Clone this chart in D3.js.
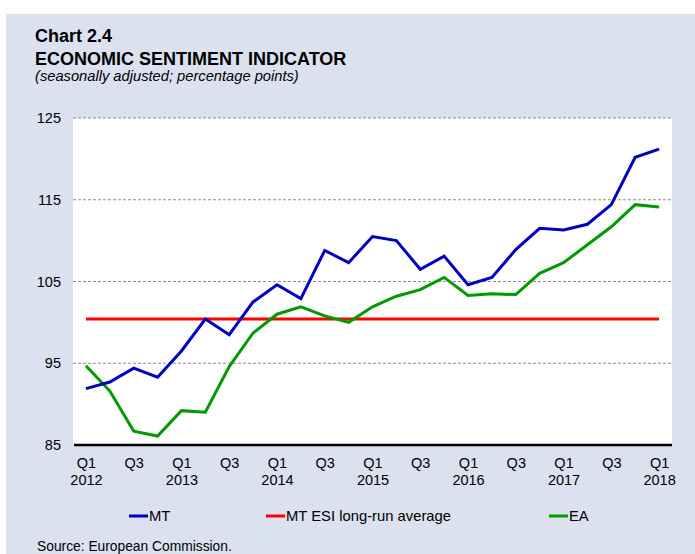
<!DOCTYPE html>
<html>
<head>
<meta charset="utf-8">
<script src="https://cdn.jsdelivr.net/npm/d3@7"></script>
<style>
  body { margin: 0; background: #fff; }
  text { font-family: "Liberation Sans", Arial, sans-serif; fill: #000; }
</style>
</head>
<body>
<div id="vis"></div>
<script>
const QUARTERS = [
  "2012Q1", "2012Q2", "2012Q3", "2012Q4",
  "2013Q1", "2013Q2", "2013Q3", "2013Q4",
  "2014Q1", "2014Q2", "2014Q3", "2014Q4",
  "2015Q1", "2015Q2", "2015Q3", "2015Q4",
  "2016Q1", "2016Q2", "2016Q3", "2016Q4",
  "2017Q1", "2017Q2", "2017Q3", "2017Q4",
  "2018Q1"
];
const MT = [91.9, 92.7, 94.4, 93.3, 96.5, 100.4, 98.5, 102.5, 104.6, 102.9, 108.8, 107.3,
            110.5, 110.0, 106.5, 108.1, 104.6, 105.5, 108.9, 111.5, 111.3, 112.0, 114.4, 120.2, 121.2];
const EA = [94.7, 91.6, 86.7, 86.1, 89.2, 89.0, 94.6, 98.7, 101.0, 101.9, 100.8, 100.0,
            101.9, 103.2, 104.0, 105.5, 103.3, 103.5, 103.4, 106.0, 107.3, 109.5, 111.7, 114.4, 114.1];
const MT_AVG = 100.4;
const Y_TICKS = [85, 95, 105, 115, 125];

const WIDTH = 695;
const HEIGHT = 554;
const SVG = d3.select("#vis").append("svg").attr("width", WIDTH).attr("height", HEIGHT);

// fondo
SVG.append("rect").attr("x", 6).attr("y", 14).attr("width", WIDTH - 6).attr("height", HEIGHT - 14)
  .attr("fill", "#dbe1ee");

// titulos
SVG.append("text").attr("x", 35).attr("y", 42).attr("font-size", 18).attr("font-weight", "bold")
  .text("Chart 2.4");
SVG.append("text").attr("x", 35).attr("y", 65).attr("font-size", 18).attr("font-weight", "bold")
  .text("ECONOMIC SENTIMENT INDICATOR");
SVG.append("text").attr("x", 35).attr("y", 81).attr("font-size", 14.7).attr("font-style", "italic")
  .text("(seasonally adjusted; percentage points)");

const PLOT = { left: 73, right: 672, top: 118, bottom: 445 };

SVG.append("rect").attr("x", PLOT.left).attr("y", PLOT.top)
  .attr("width", PLOT.right - PLOT.left).attr("height", PLOT.bottom - PLOT.top)
  .attr("fill", "#fff");

const x = d3.scalePoint().domain(QUARTERS).range([PLOT.left + 1, PLOT.right - 1]).padding(0.5);
const y = d3.scaleLinear().domain([85, 125]).range([PLOT.bottom, PLOT.top]);

// grid
SVG.append("g").selectAll("line").data(Y_TICKS.filter(d => d > 85)).join("line")
  .attr("x1", PLOT.left).attr("x2", PLOT.right)
  .attr("y1", d => y(d)).attr("y2", d => y(d))
  .attr("stroke", "#8c8c8c").attr("stroke-width", 1).attr("stroke-dasharray", "3,2");

// eje y
const yAxis = SVG.append("g").attr("transform", `translate(${PLOT.left},0)`)
  .call(d3.axisLeft(y).tickValues(Y_TICKS).tickSize(0).tickPadding(12));
yAxis.select(".domain").remove();
yAxis.selectAll("text").attr("font-size", 14.5).attr("font-family", "Liberation Sans, Arial, sans-serif")
  .attr("fill", "#000");

// eje x
const xAxis = SVG.append("g").attr("transform", `translate(0,${PLOT.bottom})`)
  .call(d3.axisBottom(x).tickValues(QUARTERS.filter((d, i) => i % 2 === 0)).tickSize(0).tickFormat(""));
xAxis.select(".domain").remove();
xAxis.selectAll(".tick").each(function(d) {
  const t = d3.select(this).append("text").attr("text-anchor", "middle")
    .attr("font-size", 14.5).attr("fill", "#000");
  t.append("tspan").attr("x", 0).attr("y", 23).text(d.slice(4));
  if (d.endsWith("Q1")) t.append("tspan").attr("x", 0).attr("y", 40).text(d.slice(0, 4));
});

SVG.append("line").attr("x1", PLOT.left + 1).attr("x2", PLOT.right)
  .attr("y1", PLOT.bottom).attr("y2", PLOT.bottom)
  .attr("stroke", "#000").attr("stroke-width", 2.5);

// lineas
const line = d3.line().x((d, i) => x(QUARTERS[i])).y(d => y(d));

SVG.append("path").datum(QUARTERS.map(() => MT_AVG)).attr("d", line)
  .attr("fill", "none").attr("stroke", "#ff0000").attr("stroke-width", 3);
SVG.append("path").datum(EA).attr("d", line)
  .attr("fill", "none").attr("stroke", "#009900").attr("stroke-width", 3);
SVG.append("path").datum(MT).attr("d", line)
  .attr("fill", "none").attr("stroke", "#0000c0").attr("stroke-width", 3);

// leyenda
const LEGEND = [
  { name: "MT", color: "#0000c0", x: 129 },
  { name: "MT ESI long-run average", color: "#ff0000", x: 266 },
  { name: "EA", color: "#009900", x: 549 }
];
const leg = SVG.append("g").selectAll("g").data(LEGEND).join("g")
  .attr("transform", d => `translate(${d.x},516)`);
leg.append("line").attr("x1", 0).attr("x2", 19).attr("stroke", d => d.color).attr("stroke-width", 3);
leg.append("text").attr("x", 20).attr("y", 5).attr("font-size", 14.8).text(d => d.name);

SVG.append("text").attr("x", 37).attr("y", 551).attr("font-size", 13.8)
  .text("Source: European Commission.");
</script>
</body>
</html>
